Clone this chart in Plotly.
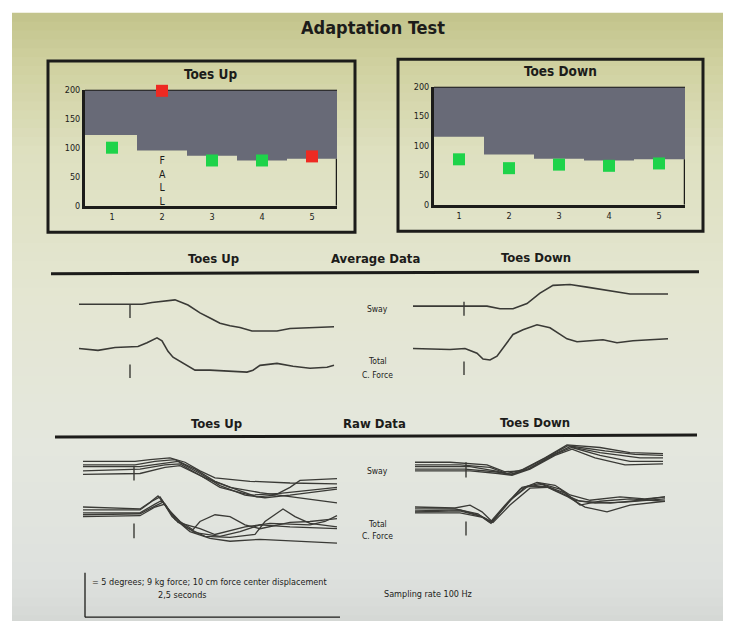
import plotly.graph_objects as go

W, H = 730, 631

# ---------------- Data ----------------
TRIALS = [1, 2, 3, 4, 5]
Y_TICKS = [0, 50, 100, 150, 200]
UP_LIMIT = [122, 95, 86, 78, 81]
UP_SCORE = [100, 198, 78, 78, 85]
DOWN_LIMIT = [115, 85, 78, 75, 77]
DOWN_SCORE = [77, 62, 68, 66, 70]
FALL_TRIAL = 2

# Average data: time in samples (100 Hz), sway in degrees, force in kg
AVG_UP_SWAY_T = [0, 63, 73, 83, 96, 109, 121, 131, 141, 151, 161, 173, 198, 211, 255]
AVG_UP_SWAY = [0, 0, 0.2, 0.3, 0.5, -0.1, -1.0, -1.6, -2.2, -2.5, -2.7, -3.1, -3.1, -2.8, -2.6]
AVG_UP_FORCE_T = [0, 19, 36, 59, 68, 78, 83, 89, 94, 108, 116, 131, 148, 168, 174, 181, 198, 214, 231, 248, 255]
AVG_UP_FORCE = [0, -0.4, 0.2, 0.4, 1.2, 2.2, 1.6, -0.6, -1.8, -3.5, -4.5, -4.5, -4.7, -4.9, -4.5, -3.5, -3.1, -3.7, -4.1, -3.9, -3.5]
AVG_DOWN_SWAY_T = [0, 74, 87, 100, 114, 127, 140, 157, 174, 194, 217, 255]
AVG_DOWN_SWAY = [0, 0, -0.3, -0.3, 0.3, 1.5, 2.4, 2.5, 2.2, 1.8, 1.4, 1.4]
AVG_DOWN_FORCE_T = [0, 37, 52, 64, 70, 77, 84, 94, 100, 110, 124, 137, 154, 164, 180, 190, 204, 220, 237, 255]
AVG_DOWN_FORCE = [0, -0.2, 0, -1.0, -2.2, -2.4, -1.6, 1.2, 2.9, 3.9, 4.9, 4.3, 2.0, 1.4, 1.6, 1.8, 1.2, 1.6, 1.8, 2.0]

# Raw data (5 trials each)
RAW_UP_SWAY_T = [
    [0, 52, 67, 87, 102, 117, 132, 167, 207, 254],
    [0, 52, 72, 92, 112, 132, 157, 174, 192, 207, 217, 254],
    [0, 57, 77, 95, 117, 137, 162, 182, 207, 254],
    [0, 57, 82, 97, 117, 137, 167, 197, 254],
    [0, 57, 82, 97, 122, 147, 177, 217, 254],
]
RAW_UP_SWAY = [
    [0.6, 0.6, 0.8, 1.0, 0.5, -0.5, -1.3, -1.7, -1.9, -2.0],
    [0.2, 0.2, 0.6, 0.8, -0.3, -1.7, -2.8, -3.5, -3.3, -2.4, -1.6, -1.4],
    [0, 0, 0.3, 0.6, -0.8, -2.2, -3.3, -3.6, -3.3, -2.6],
    [-0.5, -0.3, 0.2, 0.3, -1.0, -2.4, -3.3, -3.1, -2.4],
    [-0.9, -0.8, -0.1, 0.1, -1.3, -2.4, -3.0, -3.6, -4.2],
]
RAW_UP_FORCE_T = [
    [0, 57, 67, 75, 85, 97, 110, 117, 132, 147, 162, 177, 207, 227, 254],
    [0, 57, 69, 77, 87, 102, 122, 147, 172, 182, 200, 212, 227, 254],
    [0, 57, 72, 79, 89, 107, 127, 147, 177, 217, 254],
    [0, 57, 72, 80, 92, 112, 137, 157, 177, 207, 254],
    [0, 57, 72, 82, 95, 117, 132, 162, 187, 227, 242, 254],
]
RAW_UP_FORCE = [
    [1.0, 0.6, 2.0, 3.3, 0.6, -2.0, -3.7, -2.0, -0.6, -1.0, -2.7, -3.5, -2.2, -2.0, -1.4],
    [0.4, 0.4, 2.2, 3.1, 0, -3.1, -5.1, -5.3, -4.7, -2.0, 0.6, -1.0, -2.4, -3.1],
    [-0.2, -0.2, 1.6, 2.4, -1.0, -4.1, -5.5, -6.1, -5.7, -6.1, -6.5],
    [-0.6, -0.4, 1.2, 2.0, -1.6, -4.3, -5.1, -4.1, -2.7, -3.1, -3.5],
    [-1.0, -0.8, 1.0, 1.6, -2.2, -3.5, -4.7, -3.1, -2.4, -2.7, -2.0, -0.8],
]
RAW_DOWN_SWAY_T = [
    [0, 35, 72, 90, 105, 130, 152, 185, 215, 248],
    [0, 45, 75, 92, 110, 135, 153, 190, 220, 248],
    [0, 55, 80, 95, 113, 137, 155, 185, 225, 248],
    [0, 50, 80, 97, 115, 140, 157, 185, 215, 248],
    [0, 55, 83, 97, 115, 140, 157, 180, 210, 248],
]
RAW_DOWN_SWAY = [
    [0.5, 0.5, 0.2, -0.6, -0.5, 1.0, 2.5, 2.2, 1.6, 1.5],
    [0.2, 0.2, -0.1, -0.8, -0.3, 1.3, 2.4, 1.8, 1.4, 1.3],
    [0, 0, -0.5, -0.9, -0.3, 1.3, 2.3, 1.6, 1.0, 1.0],
    [-0.3, -0.3, -0.6, -0.9, -0.2, 1.4, 2.2, 1.3, 0.6, 0.6],
    [-0.5, -0.5, -0.8, -1.0, -0.3, 1.3, 2.0, 1.0, 0.2, 0.3],
]
RAW_DOWN_FORCE_T = [
    [0, 40, 55, 67, 77, 90, 105, 122, 140, 155, 175, 205, 230, 250],
    [0, 40, 63, 75, 90, 107, 125, 145, 160, 180, 210, 250],
    [0, 45, 65, 76, 93, 110, 127, 150, 165, 185, 215, 250],
    [0, 45, 67, 77, 95, 113, 130, 153, 170, 192, 215, 250],
    [0, 45, 69, 78, 95, 115, 133, 150, 165, 195, 225, 250],
]
RAW_DOWN_FORCE = [
    [1.0, 0.8, 1.4, 0, -2.0, 1.0, 4.7, 6.1, 5.5, 3.5, 2.4, 3.1, 2.7, 3.1],
    [0.6, 0.6, -0.4, -2.2, 1.4, 5.1, 5.9, 4.7, 2.4, 1.8, 2.0, 2.7],
    [0.2, 0.4, -0.8, -2.4, 2.0, 5.1, 5.7, 3.9, 1.4, 2.2, 2.7, 2.2],
    [0, 0.2, -1.0, -2.2, 2.4, 5.3, 5.3, 3.1, 1.0, 0, 1.4, 2.2],
    [-0.2, -0.2, -1.2, -2.2, 1.4, 4.9, 5.1, 3.5, 2.2, 1.8, 2.4, 3.1],
]

ONSET = 51  # perturbation onset, samples
# onset marker extents (value units) per panel: (top, bottom)
AVG_UP_MARK = [(0, -1.6), (-3.3, -6.1)]
AVG_DOWN_MARK = [(0.5, -1.1), (-2.7, -5.5)]
RAW_UP_MARK = [(0.1, -1.6), (-2.4, -5.5)]
RAW_DOWN_MARK = [(0.5, -1.25), (-2.0, -4.9)]

# ---------------- Styling ----------------
FONT = "Liberation Sans Narrow, Arial Narrow, DejaVu Sans Condensed, sans-serif"
INK = "#1c1c1a"
TRACE = "#3a3a36"
GREY = "#686a77"
GREEN = "#1ed34a"
RED = "#ee2a22"
SWAY_PPU = 8.8   # px per degree
FORCE_PPU = 4.9  # px per kg

fig = go.Figure()
layout_axes = {}
annotations = []
shapes = []
counter = [0]


def px(x):
    return x / W


def py(y):
    return 1 - y / H


def new_axes(xdom, ydom, xrange, yrange, **kw):
    counter[0] += 1
    n = counter[0]
    sfx = "" if n == 1 else str(n)
    layout_axes["xaxis" + sfx] = dict(domain=[px(xdom[0]), px(xdom[1])], range=xrange,
                                      anchor="y" + sfx, visible=False, fixedrange=True)
    layout_axes["yaxis" + sfx] = dict(domain=[py(ydom[1]), py(ydom[0])], range=yrange,
                                      anchor="x" + sfx, visible=False, fixedrange=True)
    return "x" + sfx, "y" + sfx


def text(x, y, s, size=12, bold=False, **kw):
    annotations.append(dict(x=px(x), y=py(y), xref="paper", yref="paper", text=("<b>%s</b>" % s) if bold else s,
                            showarrow=False, font=dict(family=FONT, size=size, color=INK),
                            xanchor=kw.get("xanchor", "center"), yanchor="middle", align=kw.get("align", "center")))


# ---------------- Background (photographed screen) ----------------
stops = [(0, (192, 193, 136)), (60, (208, 209, 160)), (150, (222, 224, 192)), (300, (228, 230, 210)),
         (450, (228, 231, 222)), (580, (222, 225, 222)), (631, (212, 215, 212))]


def bg_color(y):
    for (y0, c0), (y1, c1) in zip(stops[:-1], stops[1:]):
        if y0 <= y <= y1:
            f = (y - y0) / (y1 - y0)
            return "rgb(%d,%d,%d)" % tuple(round(a + (b - a) * f) for a, b in zip(c0, c1))
    return "rgb(%d,%d,%d)" % stops[-1][1]


for yb in range(8, 626, 9):
    shapes.append(dict(type="rect", xref="paper", yref="paper", x0=px(12), x1=px(723), y0=py(min(yb + 10, 626)),
                       y1=py(yb), fillcolor=bg_color(yb + 4), line=dict(width=0), layer="below"))

# ---------------- Top score panels ----------------


def score_panel(title, tx, ty, box, xdom, ydom, xr, limit, score, fall=None):
    xa, ya = new_axes(xdom, ydom, xr, [0, 200])
    n = xa[1:]
    layout_axes["xaxis" + n].update(visible=True, showline=True, linecolor=INK, linewidth=3,
                                    tickvals=TRIALS, ticks="", showgrid=False, zeroline=False,
                                    tickfont=dict(family=FONT, size=9, color=INK))
    layout_axes["yaxis" + n].update(visible=True, showline=True, linecolor=INK, linewidth=3,
                                    tickvals=Y_TICKS, ticks="", showgrid=False, zeroline=False,
                                    tickfont=dict(family=FONT, size=9, color=INK))
    # grey region above adaptation limit (step per trial)
    xs, ys = [], []
    for i, (t, lim) in enumerate(zip(TRIALS, limit)):
        left = xr[0] if i == 0 else t - 0.5
        right = xr[1] if i == len(TRIALS) - 1 else t + 0.5
        xs += [left, right]
        ys += [lim, lim]
    xs += [xr[1], xr[0]]
    ys += [200, 200]
    fig.add_trace(go.Scatter(x=xs, y=ys, fill="toself", fillcolor=GREY, line=dict(width=0), mode="lines",
                             xaxis=xa, yaxis=ya, hoverinfo="skip"))
    fig.add_trace(go.Scatter(x=[xr[0], xr[1]], y=[200, 200], mode="lines", line=dict(color=INK, width=2),
                             xaxis=xa, yaxis=ya, hoverinfo="skip", cliponaxis=False))
    fig.add_trace(go.Scatter(x=[xr[1], xr[1]], y=[0, limit[-1]], mode="lines", line=dict(color=INK, width=2.5),
                             xaxis=xa, yaxis=ya, hoverinfo="skip", cliponaxis=False))
    colors = [RED if s > l else GREEN for s, l in zip(score, limit)]
    fig.add_trace(go.Scatter(x=TRIALS, y=score, mode="markers", xaxis=xa, yaxis=ya, cliponaxis=False,
                             hoverinfo="skip",
                             marker=dict(symbol="square", size=12, color=colors, line=dict(width=0))))
    if fall is not None:
        annotations.append(dict(x=fall, y=44, xref=xa, yref=ya, text="F<br>A<br>L<br>L", showarrow=False,
                                font=dict(family=FONT, size=10.5, color=INK), yanchor="middle"))
    shapes.append(dict(type="rect", xref="paper", yref="paper", x0=px(box[0]), x1=px(box[2]),
                       y0=py(box[3]), y1=py(box[1]), line=dict(color=INK, width=3)))
    text(tx, ty, title, size=13.5, bold=True)


score_panel("Toes Up", 210, 70, (48, 57, 355, 231), (85, 337), (86, 204), [0.46, 5.5], UP_LIMIT, UP_SCORE, FALL_TRIAL)
score_panel("Toes Down", 560, 67, (398, 55, 703, 230), (434, 685), (83, 203), [0.5, 5.52], DOWN_LIMIT, DOWN_SCORE)

# ---------------- Trace panels ----------------


def trace_panel(x0, yb, ppu, ts, vs, mark, width=1.6, half=50):
    xa, ya = new_axes((x0, x0 + 256), (yb - half, yb + half), [0, 256], [-half / ppu, half / ppu])
    for t, v in zip(ts, vs):
        fig.add_trace(go.Scatter(x=t, y=v, mode="lines", line=dict(color=TRACE, width=width),
                                 xaxis=xa, yaxis=ya, hoverinfo="skip"))
    fig.add_trace(go.Scatter(x=[ONSET, ONSET], y=list(mark), mode="lines", line=dict(color=TRACE, width=1.4),
                             xaxis=xa, yaxis=ya, hoverinfo="skip"))


# average data
trace_panel(79, 304, SWAY_PPU, [AVG_UP_SWAY_T], [AVG_UP_SWAY], AVG_UP_MARK[0])
trace_panel(79, 349, FORCE_PPU, [AVG_UP_FORCE_T], [AVG_UP_FORCE], AVG_UP_MARK[1])
trace_panel(413, 306, SWAY_PPU, [AVG_DOWN_SWAY_T], [AVG_DOWN_SWAY], AVG_DOWN_MARK[0])
trace_panel(413, 349, FORCE_PPU, [AVG_DOWN_FORCE_T], [AVG_DOWN_FORCE], AVG_DOWN_MARK[1])
# raw data
trace_panel(83, 469, SWAY_PPU, RAW_UP_SWAY_T, RAW_UP_SWAY, RAW_UP_MARK[0], width=1.3)
trace_panel(83, 515, FORCE_PPU, RAW_UP_FORCE_T, RAW_UP_FORCE, RAW_UP_MARK[1], width=1.3)
trace_panel(415, 469, SWAY_PPU, RAW_DOWN_SWAY_T, RAW_DOWN_SWAY, RAW_DOWN_MARK[0], width=1.3)
trace_panel(415, 515, FORCE_PPU, RAW_DOWN_FORCE_T, RAW_DOWN_FORCE, RAW_DOWN_MARK[1], width=1.3)

# ---------------- Headers, rules, labels ----------------
text(373, 23, "Adaptation Test", size=18, bold=True)

text(213, 258, "Toes Up", size=13, bold=True)
text(375, 258, "Average Data", size=13, bold=True)
text(536, 257, "Toes Down", size=13, bold=True)
shapes.append(dict(type="line", xref="paper", yref="paper", x0=px(51), y0=py(273), x1=px(699), y1=py(271),
                   line=dict(color=INK, width=3)))

text(216, 425, "Toes Up", size=13, bold=True)
text(374, 425, "Raw Data", size=13, bold=True)
text(535, 424, "Toes Down", size=13, bold=True)
shapes.append(dict(type="line", xref="paper", yref="paper", x0=px(55), y0=py(439), x1=px(697), y1=py(437),
                   line=dict(color=INK, width=3)))

for y_s, y_t, y_c in [(309, 362, 376), (474, 527, 540)]:
    text(377, y_s, "Sway", size=8.5)
    text(377, y_t, "Total", size=8.5)
    text(377, y_c, "C. Force", size=8.5)

# scale bar and footer
shapes.append(dict(type="line", xref="paper", yref="paper", x0=px(85), y0=py(577), x1=px(85), y1=py(622),
                   line=dict(color=INK, width=1.3)))
shapes.append(dict(type="line", xref="paper", yref="paper", x0=px(85), y0=py(622), x1=px(340), y1=py(622),
                   line=dict(color=INK, width=1.3)))
text(90, 586, "= 5 degrees; 9 kg force; 10 cm force center displacement", size=9, xanchor="left")
text(182, 600, "2,5 seconds", size=9)
text(382, 598, "Sampling rate 100 Hz", size=9, xanchor="left")

fig.update_layout(width=W, height=H, margin=dict(l=0, r=0, t=0, b=0), showlegend=False,
                  paper_bgcolor="white", plot_bgcolor="rgba(0,0,0,0)", hovermode=False,
                  annotations=annotations, shapes=shapes, **layout_axes)
fig.write_html("out.html", config={"displayModeBar": False, "staticPlot": True},
               post_script="document.body.style.margin='0';document.body.style.overflow='hidden';")
